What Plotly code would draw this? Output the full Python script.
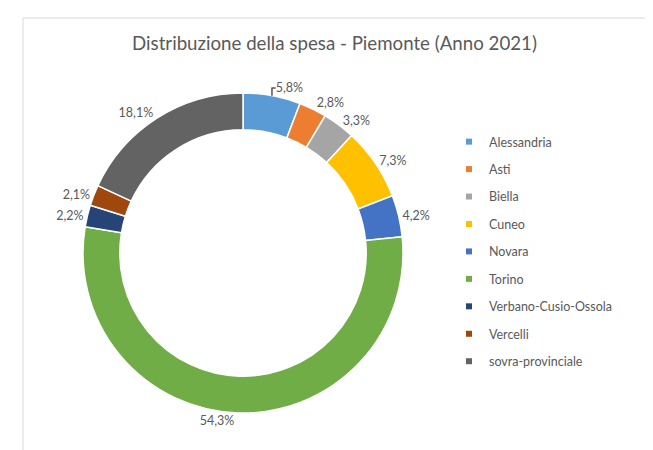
import plotly.graph_objects as go

categories = ["Alessandria", "Asti", "Biella", "Cuneo", "Novara", "Torino",
              "Verbano-Cusio-Ossola", "Vercelli", "sovra-provinciale"]
shares = [5.8, 2.8, 3.3, 7.3, 4.2, 54.3, 2.2, 2.1, 18.1]
colors = ["#5B9BD5", "#ED7D31", "#A5A5A5", "#FFC000", "#4472C4", "#70AD47",
          "#264478", "#9E480E", "#636363"]

W, H = 653, 450
FONT = "Lato"
GREY = "#595959"

fig = go.Figure()
fig.add_trace(go.Pie(
    labels=categories, values=shares, sort=False, direction="clockwise",
    hole=0.77, marker=dict(colors=colors, line=dict(color="white", width=1.5)),
    texttemplate="%{value:.1f}%", textposition="outside",
    textfont=dict(family=FONT, size=12.5, color=GREY),
    showlegend=False,
    domain=dict(x=[75 / W, 395 / W], y=[1 - 405 / H, 1 - 85 / H]),
))
# legend entries (one group per category to reproduce the spacing)
for c, col in zip(categories, colors):
    fig.add_trace(go.Scatter(
        x=[None], y=[None], mode="markers", name=c, legendgroup=c,
        marker=dict(symbol="square", size=6, color=col),
    ))

fig.update_layout(
    width=W, height=H, separators=",.",
    paper_bgcolor="white", plot_bgcolor="white",
    margin=dict(l=0, r=0, t=0, b=0),
    xaxis=dict(visible=False), yaxis=dict(visible=False),
    title=dict(text="Distribuzione della spesa - Piemonte (Anno 2021)",
               x=0.5, xanchor="center", y=1 - 35 / H, yanchor="middle",
               font=dict(family=FONT, size=18.7, color=GREY)),
    legend=dict(x=441 / W, xanchor="left", y=1 - 119 / H, yanchor="top",
                font=dict(family=FONT, size=12.5, color=GREY),
                tracegroupgap=8.2, itemclick=False),
    shapes=[dict(type="rect", xref="paper", yref="paper",
                 x0=15 / W, x1=642 / W, y0=1 - 443 / H, y1=1 - 10 / H,
                 line=dict(color="#D9D9D9", width=1))],
)
fig.write_html("out.html")
